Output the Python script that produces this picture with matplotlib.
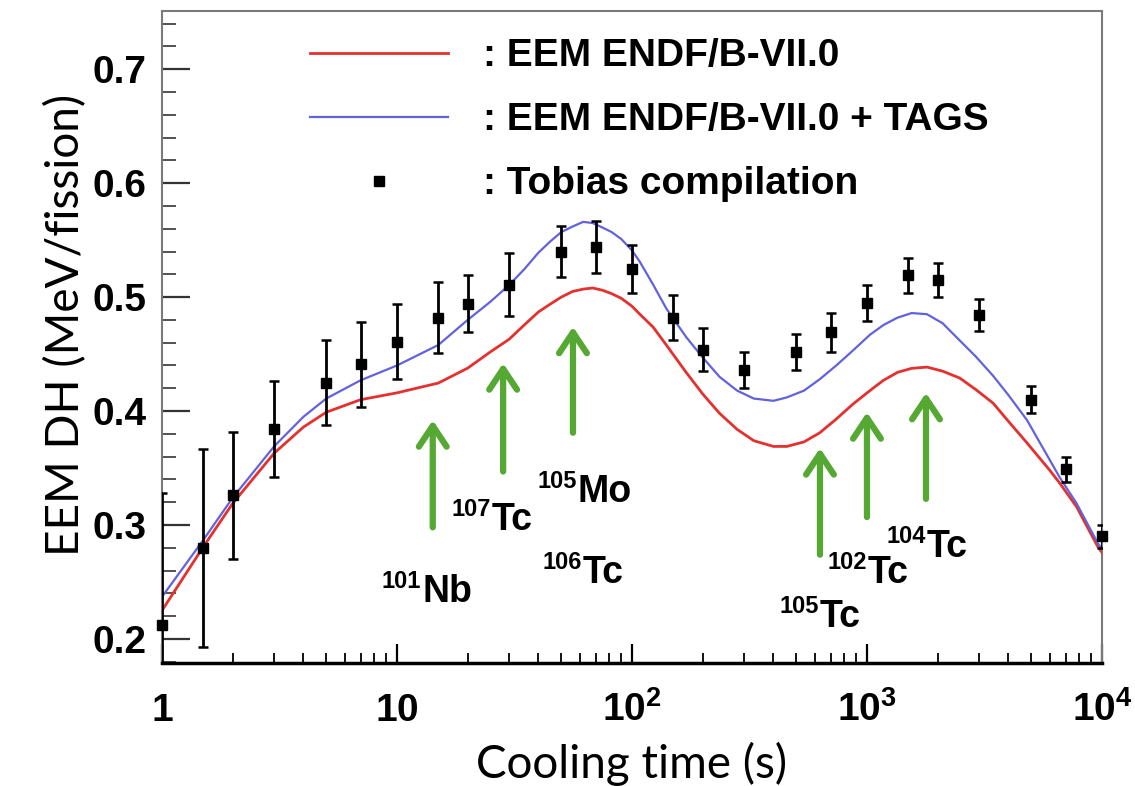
import matplotlib
matplotlib.use('Agg')
import matplotlib.pyplot as plt
from matplotlib.font_manager import FontProperties
from matplotlib.ticker import FixedLocator, FixedFormatter, LogLocator, NullFormatter, MultipleLocator

# ---------------- data ----------------
time_model = [1, 1.5, 2, 3, 4, 5, 7, 10, 15, 20, 25, 30, 35, 40, 45, 50, 56, 62, 68, 75,
              82, 90, 100, 108, 123, 140, 170, 200, 236, 280, 330, 400, 456, 540, 630,
              740, 870, 1030, 1175, 1350, 1550, 1800, 2100, 2480, 2900, 3440, 4000, 4800,
              6000, 6600, 7800, 9600, 10000]
eem_endf = [0.225, 0.281, 0.319, 0.363, 0.386, 0.399, 0.410, 0.416, 0.4246, 0.4377, 0.452,
            0.463, 0.476, 0.487, 0.494, 0.500, 0.505, 0.507, 0.508, 0.506, 0.503, 0.499,
            0.492, 0.485, 0.4737, 0.458, 0.434, 0.415, 0.398, 0.384, 0.374, 0.369, 0.369,
            0.373, 0.381, 0.393, 0.406, 0.418, 0.427, 0.434, 0.4375, 0.4386, 0.435, 0.429,
            0.419, 0.407, 0.391, 0.372, 0.348, 0.337, 0.316, 0.281, 0.276]
eem_tags = [0.237, 0.287, 0.324, 0.369, 0.395, 0.411, 0.427, 0.440, 0.458, 0.480, 0.496,
            0.5105, 0.525, 0.539, 0.549, 0.557, 0.562, 0.566, 0.565, 0.561, 0.557, 0.551,
            0.541, 0.531, 0.511, 0.490, 0.465, 0.447, 0.430, 0.418, 0.411, 0.409, 0.412,
            0.418, 0.428, 0.440, 0.453, 0.467, 0.4755, 0.482, 0.486, 0.485, 0.477, 0.462,
            0.448, 0.431, 0.414, 0.392, 0.357, 0.342, 0.319, 0.284, 0.279]

time_obs = [1, 1.5, 2, 3, 5, 7, 10, 15, 20, 30, 50, 70, 100, 150, 200, 300, 500, 700,
            1000, 1500, 2000, 3000, 5000, 7000, 10000]
dh_obs = [0.212, 0.280, 0.326, 0.384, 0.425, 0.441, 0.461, 0.482, 0.494, 0.511, 0.540,
          0.544, 0.525, 0.482, 0.454, 0.436, 0.452, 0.469, 0.495, 0.519, 0.515, 0.484,
          0.410, 0.349, 0.290]
err_obs = [0.116, 0.087, 0.056, 0.042, 0.037, 0.037, 0.033, 0.031, 0.025, 0.028, 0.022,
           0.023, 0.021, 0.020, 0.019, 0.016, 0.016, 0.017, 0.016, 0.015, 0.015, 0.014,
           0.012, 0.011, 0.010]

# isotope annotations
iso_mass = ['101', '107', '105', '106', '105', '102', '104']
iso_elem = ['Nb', 'Tc', 'Mo', 'Tc', 'Tc', 'Tc', 'Tc']
label_x = [12.8, 25.4, 58.9, 61.9, 631, 1010, 1800]
label_y = [0.2325, 0.2956, 0.320, 0.249, 0.2105, 0.249, 0.272]
arrow_x = [14.2, 28.3, 56.1, 631, 1000, 1783]
arrow_tail = [0.298, 0.347, 0.381, 0.274, 0.307, 0.323]
arrow_tip = [0.392, 0.442, 0.474, 0.3675, 0.399, 0.416]

x_ticks = [1, 10, 100, 1000, 10000]
x_tick_labels = [r'$1$', r'$10$', r'$10^{2}$', r'$10^{3}$', r'$10^{4}$']
y_ticks = [0.2, 0.3, 0.4, 0.5, 0.6, 0.7]
y_tick_labels = ['0.2', '0.3', '0.4', '0.5', '0.6', '0.7']

legend_labels = [': EEM ENDF/B-VII.0', ': EEM ENDF/B-VII.0 + TAGS', ': Tobias compilation']

# ---------------- style ----------------
plt.rcParams['mathtext.fontset'] = 'custom'
plt.rcParams['mathtext.rm'] = 'Liberation Sans:bold'
plt.rcParams['mathtext.bf'] = 'Liberation Sans:bold'
plt.rcParams['mathtext.it'] = 'Liberation Sans:bold'

RED = '#e4312f'
BLUE = '#6262dc'
GREEN = '#55a832'
LABEL_FONT = ['Liberation Sans', 'DejaVu Sans']

fig = plt.figure(figsize=(11.35, 7.86), dpi=100)
ax = fig.add_axes([0.1427, 0.1565, 0.8282, 0.8295])

l_red, = ax.plot(time_model, eem_endf, color=RED, lw=2.0, zorder=3)
l_blue, = ax.plot(time_model, eem_tags, color=BLUE, lw=1.6, zorder=3)
cont = ax.errorbar(time_obs, dh_obs, yerr=err_obs, fmt='s', color='black', ms=7.5,
                   elinewidth=2.0, capsize=3.5, capthick=1.8, zorder=4)
cont.lines[0].set_clip_on(False)

ax.set_xscale('log')
ax.set_xlim(1, 10000)
ax.set_ylim(0.179, 0.751)

# arrows
for xa, yt, yh in zip(arrow_x, arrow_tail, arrow_tip):
    ax.annotate('', xy=(xa, yh), xytext=(xa, yt),
                arrowprops=dict(arrowstyle='->,head_length=0.75,head_width=0.5',
                                color=GREEN, lw=4.5, mutation_scale=20,
                                shrinkA=0, shrinkB=0), zorder=2)

# isotope labels
for m, e, xl, yl in zip(iso_mass, iso_elem, label_x, label_y):
    ax.annotate(e, xy=(xl, yl), ha='left', va='baseline', fontsize=27,
                family=LABEL_FONT, weight='bold', zorder=5)
    ax.annotate(m, xy=(xl, yl), xytext=(-1, 10), textcoords='offset points',
                ha='right', va='baseline', fontsize=17, family=LABEL_FONT,
                weight='bold', zorder=5)

# axes styling
ax.xaxis.set_major_locator(FixedLocator(x_ticks))
ax.xaxis.set_major_formatter(FixedFormatter(x_tick_labels))
ax.xaxis.set_minor_locator(LogLocator(base=10, subs=[2, 3, 4, 5, 6, 7, 8, 9]))
ax.xaxis.set_minor_formatter(NullFormatter())
ax.yaxis.set_major_locator(FixedLocator(y_ticks))
ax.yaxis.set_major_formatter(FixedFormatter(y_tick_labels))
ax.yaxis.set_minor_locator(MultipleLocator(0.02))

ax.tick_params(axis='x', which='major', direction='in', length=14, width=1.6,
               color='black', labelsize=28, pad=42)
ax.tick_params(axis='x', which='minor', direction='in', length=7, width=1.3, color='black')
ax.tick_params(axis='y', which='major', direction='in', length=20, width=1.6,
               color='#333333', labelsize=28, pad=11)
ax.tick_params(axis='y', which='minor', direction='in', length=10, width=1.3, color='#444444')
for lab in ax.get_xticklabels():
    lab.set_verticalalignment('baseline')
for lab in ax.get_yticklabels():
    lab.set_fontproperties(FontProperties(family='Liberation Sans', weight='bold', size=28))

for side in ['top', 'right', 'left']:
    ax.spines[side].set_color('#7a7a7a')
    ax.spines[side].set_linewidth(1.5)
ax.spines['bottom'].set_color('black')
ax.spines['bottom'].set_linewidth(2.5)

ax.set_xlabel('Cooling time (s)', family=['Lato', 'DejaVu Sans'], fontsize=33, labelpad=9)
ax.set_ylabel('EEM DH (MeV/fission)', family=['Lato', 'DejaVu Sans'], fontsize=33, labelpad=4)
ax.yaxis.label.set_y(0.518)

leg = ax.legend([l_red, l_blue, cont.lines[0]], legend_labels, loc='upper left',
                bbox_to_anchor=(0.157, 0.958), frameon=False, borderpad=0,
                borderaxespad=0, handlelength=3.55, handletextpad=0.9,
                labelspacing=0.72, numpoints=1,
                prop=dict(family='Liberation Sans', weight='bold', size=28))

fig.savefig('out.png', dpi=100)
